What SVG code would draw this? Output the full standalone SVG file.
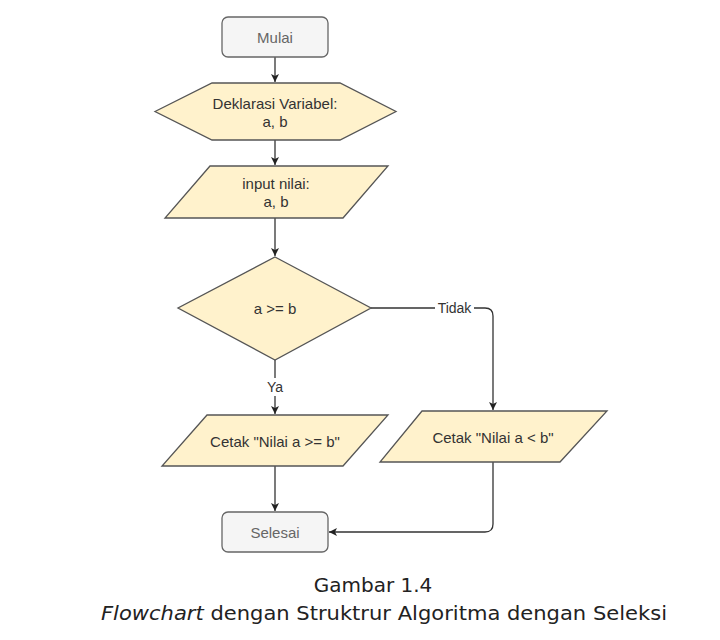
<svg xmlns="http://www.w3.org/2000/svg" width="720" height="640" viewBox="0 0 720 640">
<style>
.term{fill:#f5f5f5;stroke:#666;stroke-width:1.3}
.shape{fill:#fff2cc;stroke:#555;stroke-width:1.3}
.t{font-family:"Liberation Sans",Arial,sans-serif;font-size:15px;fill:#333;text-anchor:middle;dominant-baseline:central}
.lbl{font-size:14px}
.tg{fill:#666}
.edge{fill:none;stroke:#333;stroke-width:1.3}
.cap{font-family:"DejaVu Sans",Verdana,sans-serif;font-size:20px;fill:#222;text-anchor:middle}
</style>
<defs>
<marker id="arr" markerWidth="10" markerHeight="10" refX="9" refY="5" orient="auto" markerUnits="userSpaceOnUse">
<path d="M1,1 L9,5 L1,9 L3,5 Z" fill="#222"/>
</marker>
</defs>
<rect width="720" height="640" fill="#fff"/>
<g id="connectors">
<path class="edge" d="M275,57 V82" marker-end="url(#arr)"/>
<path class="edge" d="M275,140 V165" marker-end="url(#arr)"/>
<path class="edge" d="M275,218 V256" marker-end="url(#arr)"/>
<path class="edge" d="M275,360 V414" marker-end="url(#arr)"/>
<path class="edge" d="M371,308 H485 Q493,308 493,316 V410" marker-end="url(#arr)"/>
<path class="edge" d="M275,466 V511" marker-end="url(#arr)"/>
<path class="edge" d="M493,462 V524 Q493,532 485,532 H329" marker-end="url(#arr)"/>
<rect x="435" y="299" width="39" height="18" fill="#fff"/>
<text class="t lbl" x="454.5" y="308">Tidak</text>
<rect x="265" y="378" width="20" height="18" fill="#fff"/>
<text class="t lbl" x="275" y="387">Ya</text>
</g>
<g id="mulai">
<rect class="term" x="222" y="17" width="106" height="40" rx="6"/>
<text class="t tg" x="275" y="37">Mulai</text>
</g>
<g id="deklarasi">
<polygon class="shape" points="155,111.5 212,83 340,83 396,111.5 340,140 212,140"/>
<text class="t" x="275" y="103">Deklarasi Variabel:</text>
<text class="t" x="275" y="121">a, b</text>
</g>
<g id="input">
<polygon class="shape" points="210,166 388,166 343,218 165,218"/>
<text class="t" x="276" y="183">input nilai:</text>
<text class="t" x="276" y="201">a, b</text>
</g>
<g id="kondisi">
<polygon class="shape" points="275,257 371,308 275,360 178,308"/>
<text class="t" x="275" y="308">a &gt;= b</text>
</g>
<g id="cetak1">
<polygon class="shape" points="207,415 388,415 343,466 162,466"/>
<text class="t" x="275" y="441">Cetak "Nilai a &gt;= b"</text>
</g>
<g id="cetak2">
<polygon class="shape" points="422,411 607,411 560,462 380,462"/>
<text class="t" x="493" y="437">Cetak "Nilai a &lt; b"</text>
</g>
<g id="selesai">
<rect class="term" x="222" y="512" width="106" height="40" rx="6"/>
<text class="t tg" x="275" y="532">Selesai</text>
</g>
<g id="caption">
<text class="cap" x="373" y="592">Gambar 1.4</text>
<text class="cap" x="384" y="620" textLength="566" lengthAdjust="spacingAndGlyphs"><tspan font-style="italic">Flowchart</tspan> dengan Struktrur Algoritma dengan Seleksi</text>
</g>
</svg>
